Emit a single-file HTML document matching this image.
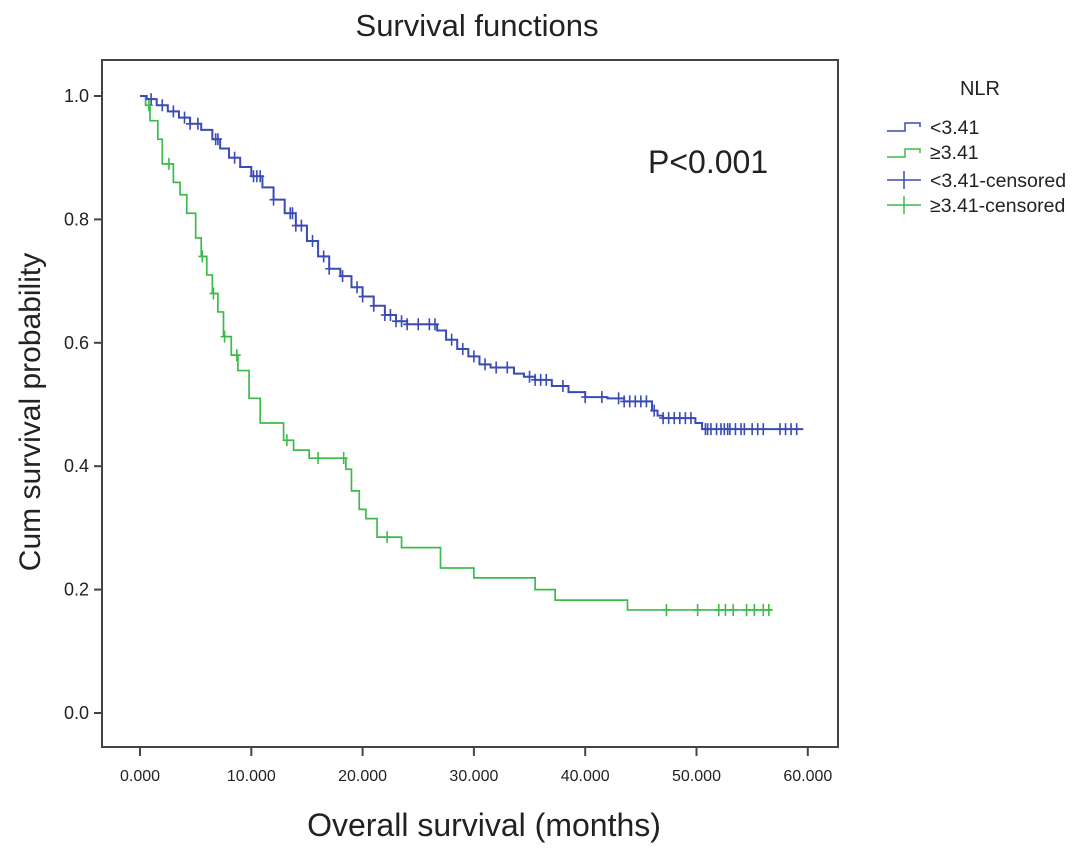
<!DOCTYPE html>
<html><head><meta charset="utf-8"><style>
body{margin:0;background:#fff;width:1087px;height:852px;overflow:hidden;font-family:"Liberation Sans",Arial,sans-serif}
svg text{font-family:"Liberation Sans",Arial,sans-serif;fill:#222}
</style></head><body>
<svg id="chart" width="1087" height="852">
<text x="477" y="36" font-size="31" text-anchor="middle">Survival functions</text>
<rect x="102" y="60" width="736" height="687" fill="none" stroke="#444" stroke-width="2"/>
<g id="axes"></g><g id="series"></g>
<text x="648" y="173" font-size="32">P&lt;0.001</text>
<text x="484" y="836" font-size="32" text-anchor="middle">Overall survival (months)</text>
<text transform="translate(40,412) rotate(-90)" font-size="30" text-anchor="middle">Cum survival probability</text>
<g>
<text x="980" y="95" font-size="20" text-anchor="middle">NLR</text>
<g><path d="M887 131h18v-8h15v4" fill="none" stroke="#3a4bb5" stroke-width="1.5"/><text x="930" y="134" font-size="19.5">&lt;3.41</text></g>
<g><path d="M887 157h18v-8h15v4" fill="none" stroke="#3dbb4a" stroke-width="1.5"/><text x="930" y="159" font-size="19.5">≥3.41</text></g>
<g><path d="M887 180h34M904 171v18" stroke="#3a4bb5" stroke-width="1.5"/><text x="930" y="187" font-size="19.5">&lt;3.41-censored</text></g>
<g><path d="M887 205h34M904 196v18" stroke="#3dbb4a" stroke-width="1.5"/><text x="930" y="212" font-size="19.5">≥3.41-censored</text></g>
</g>
</svg>
<script>
const xTicks=[0,10,20,30,40,50,60];
const yTicks=[0,0.2,0.4,0.6,0.8,1.0];
const blueT=[0.6,1.5,2.5,3.5,4.5,5.5,6.5,7.2,8,9,10,11,12,13,14,15,16,17,18,19,20,21,22,23,24,26.7,27.5,28.5,29.5,30.5,31.5,33.6,34.5,35.5,37,38.5,40,42,43.5,46,46.5,47,49.9,50.5];
const blueS=[0.995,0.985,0.975,0.965,0.955,0.945,0.93,0.915,0.9,0.885,0.87,0.852,0.832,0.81,0.79,0.765,0.74,0.72,0.708,0.69,0.675,0.66,0.645,0.635,0.63,0.62,0.605,0.59,0.578,0.565,0.56,0.55,0.545,0.54,0.53,0.52,0.512,0.51,0.505,0.49,0.482,0.478,0.47,0.46];
const blueEnd=59.6;
const greenT=[0.5,0.9,1.6,2.0,3.0,3.6,4.2,5.0,5.5,6.0,6.5,7.0,7.5,8.2,8.8,9.8,10.8,12.9,13.8,15.2,18.5,19,19.7,20.3,21.3,23.5,27,30,35.5,37.3,43.8];
const greenS=[0.985,0.96,0.93,0.89,0.86,0.84,0.81,0.77,0.74,0.71,0.68,0.65,0.61,0.58,0.555,0.51,0.47,0.442,0.426,0.413,0.395,0.36,0.33,0.315,0.285,0.268,0.235,0.219,0.2,0.183,0.167];
const greenEnd=56.8;
const blueCens=[1,2,3,4,4.5,5.2,6.8,7,8.5,10.2,10.5,10.8,12,13.5,13.7,14,14.5,15.5,16.5,17,18.2,19.5,20,21,22,22.5,23,23.5,24,25,26,26.5,28,29,30,31,32,33,35,35.5,36,36.5,38,40,41.5,43,43.5,44,44.5,45,45.5,46.2,47,47.5,48,48.5,49,49.5,50.8,51,51.3,51.8,52.2,52.5,52.8,53,53.5,54,54.3,55,55.5,56,57.5,58,58.5,59];
const greenCens=[0.8,2.6,5.6,6.6,7.6,8.7,13.2,16,18.3,22.2,47.3,50.1,52,52.6,53.3,54.5,55.2,56,56.5];
const NS='http://www.w3.org/2000/svg';
const X=v=>140+v*11.13, Y=v=>713-v*617;
function mk(tag,attrs,parent){const e=document.createElementNS(NS,tag);for(const k in attrs)e.setAttribute(k,attrs[k]);parent.appendChild(e);return e;}
const ax=document.getElementById('axes');
xTicks.forEach(t=>{
  const l=mk('line',{x1:X(t),x2:X(t),y1:747,y2:756,stroke:'#444','stroke-width':2},ax);
  
  
  const tx=mk('text',{x:X(t),y:781,'font-size':16,'text-anchor':'middle'},ax);tx.textContent=t.toFixed(3);
  
  
});
yTicks.forEach(t=>{
  const l=mk('line',{x1:94,x2:102,y1:Y(t),y2:Y(t),stroke:'#444','stroke-width':2},ax);
  
  
  const tx=mk('text',{x:89,y:Y(t)+6,'font-size':18,'text-anchor':'end'},ax);tx.textContent=t.toFixed(1);
  
  
});
function surv(T,S,t){let s=1;for(let i=0;i<T.length;i++){if(T[i]<=t)s=S[i];}return s;}
const sg=document.getElementById('series');
function draw(T,S,end,cens,color,name,w){
  let d='M'+X(0)+' '+Y(1);
  for(let i=0;i<T.length;i++){d+=' H'+X(T[i])+' V'+Y(S[i]);}
  d+=' H'+X(end);
  const p=mk('path',{d:d,fill:'none',stroke:color,'stroke-width':w},sg);
  
  
  cens.forEach(t=>{
    const y=Y(surv(T,S,t)),x=X(t);
    const c=mk('path',{d:`M${x-4} ${y}H${x+4}M${x} ${y-6}V${y+6}`,stroke:color,'stroke-width':1.6},sg);
    
    
  });
}
draw(greenT,greenS,greenEnd,greenCens,'#3dbb4a','nlr-high',1.7);
draw(blueT,blueS,blueEnd,blueCens,'#3a4bb5','nlr-low',2);
</script>
</body></html>
